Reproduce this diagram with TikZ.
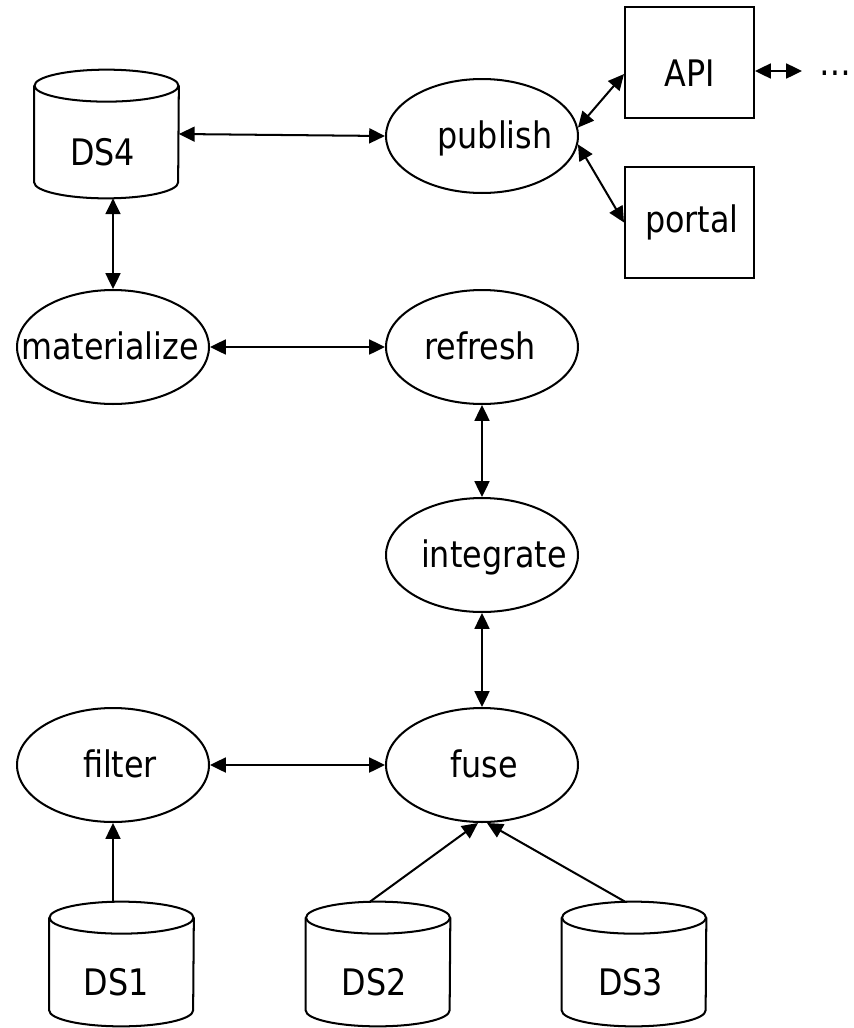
\documentclass[tikz,border=0pt]{standalone}
\usepackage{fontspec}
\setmainfont[FakeStretch=0.87]{DejaVu Sans}
\usetikzlibrary{shapes.geometric,arrows.meta,calc}
\tikzset{
  ln/.style={line width=1.15pt},
  proc/.style={ellipse, draw, ln, minimum width=3.84cm, minimum height=2.28cm, inner sep=0pt},
  boxnode/.style={rectangle, draw, ln, minimum width=2.58cm, minimum height=2.22cm, inner sep=0pt},
  cylbox/.style={rectangle, draw=none, minimum width=2.88cm, inner sep=0pt},
  txt/.style={font=\fontsize{20.8pt}{24pt}\selectfont, text height=17.5pt, text depth=3pt, inner sep=0pt},
  biarrow/.style={ln, {Triangle[length=9pt,width=8.5pt]}-{Triangle[length=9pt,width=8.5pt]}},
  uniarrow/.style={ln, -{Triangle[length=9pt,width=8.5pt]}}
}
\newcommand\dbcyl[6]{%
  \node[cylbox, minimum height={(#4-#3)*0.02cm}, label={[txt,xshift=#6,yshift=-0.38cm]center:#5}] (#1) at (#2,{(#3+#4)/2}) {};
  \draw[ln] ($(#1.north west)+(0,16)$) -- ($(#1.south west)+(0,-16)$)
     arc[start angle=180,end angle=360,x radius=1.44cm,y radius=0.32cm] -- ($(#1.north east)+(0,16)$);
  \draw[ln] ($(#1.north)+(0,16)$) ellipse[x radius=1.44cm,y radius=0.32cm];
}
\begin{document}
\begin{tikzpicture}[x=0.02cm,y=-0.02cm]
\useasboundingbox[fill=white] (0,0) rectangle (854,1028);
% cylinders
\dbcyl{ds4}{106.5}{70}{198}{DS4}{-0.08cm}
\dbcyl{ds1}{121.5}{902}{1026}{DS1}{-0.11cm}
\dbcyl{ds2}{378}{902}{1026}{DS2}{-0.08cm}
\dbcyl{ds3}{634}{902}{1026}{DS3}{-0.07cm}
% processes
\node[proc, label={[txt,xshift=0.26cm]center:publish}] (publish) at (482,136) {};
\node[proc, label={[txt,xshift=-0.06cm]center:materialize}] (materialize) at (113,347) {};
\node[proc, label={[txt,xshift=-0.04cm]center:refresh}] (refresh) at (482,347) {};
\node[proc, label={[txt,xshift=0.24cm]center:integrate}] (integrate) at (482,555) {};
\node[proc, label={[txt,xshift=0.14cm]center:filter}] (filter) at (113,765) {};
\node[proc, label={[txt,xshift=0.04cm]center:fuse}] (fuse) at (482,765) {};
% boxes
\node[boxnode, label={[txt,yshift=-0.22cm]center:API}] (api) at (689.5,62.5) {};
\node[boxnode, label={[txt,xshift=0.05cm,yshift=0.06cm]center:portal}] (portal) at (689.5,222.5) {};
\coordinate (more) at (802,71);
\node[txt, anchor=base west] (dots) at (819,75) {…};
% connectors
\draw[biarrow] (ds4.east) -- (publish.west);
\draw[biarrow] (materialize.north |- ds4.south) -- (materialize.north);
\draw[biarrow] (materialize) -- (refresh);
\draw[biarrow] (refresh) -- (integrate);
\draw[biarrow] (integrate) -- (fuse);
\draw[biarrow] (filter) -- (fuse);
\draw[uniarrow] (filter.south |- ds1.north) -- (filter.south);
\draw[uniarrow] ($(ds2.north)+(-8,0)$) -- ($(fuse.south)+(-4,0)$);
\draw[uniarrow] ($(ds3.north)+(-9,0)$) -- ($(fuse.south)+(5,0)$);
\draw[biarrow] (publish.5) -- (api.190);
\draw[biarrow] (publish.-5) -- (portal.west);
\draw[biarrow] (api.east |- more) -- (more);
\end{tikzpicture}
\end{document}
